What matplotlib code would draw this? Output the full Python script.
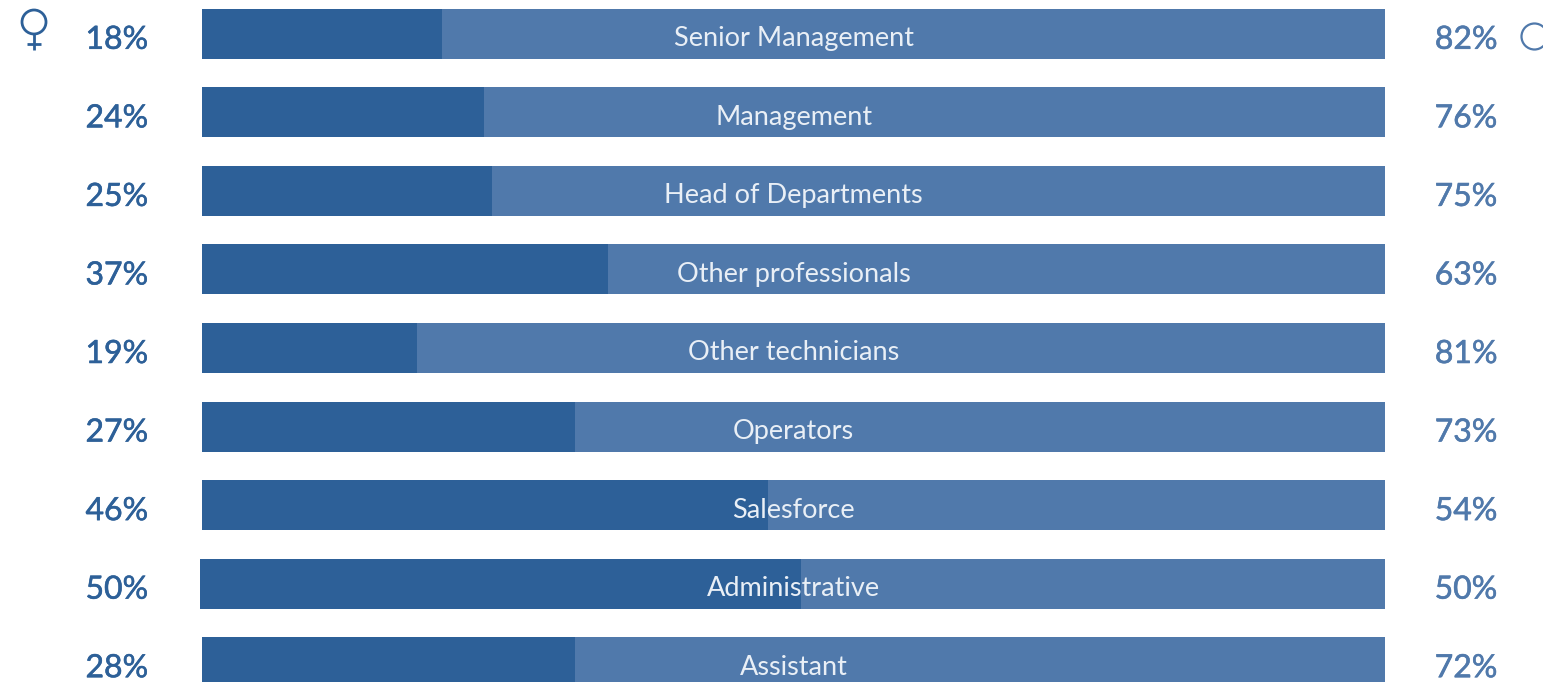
#!/usr/bin/env python3
import matplotlib
matplotlib.use('Agg')
import matplotlib.pyplot as plt
import matplotlib.patheffects as pe
from matplotlib.patches import Circle
from matplotlib.transforms import blended_transform_factory

# data
categories = ['Senior Management', 'Management', 'Head of Departments', 'Other professionals',
              'Other technicians', 'Operators', 'Salesforce', 'Administrative', 'Assistant']
female_labels = ['18%', '24%', '25%', '37%', '19%', '27%', '46%', '50%', '28%']
male_labels = ['82%', '76%', '75%', '63%', '81%', '73%', '54%', '50%', '72%']
# the drawn bar lengths do not follow the labels, so they are read off the picture on their own
female_bar = [20.25, 23.8, 24.5, 34.3, 18.15, 31.5, 47.85, 50.8, 31.5]
bar_start = [0, 0, 0, 0, 0, 0, 0, -0.2, 0]

W, H = 1543, 682
DARK = '#2d6098'
LIGHT = '#5079ab'
ROW = 78.55
TOP = 33.8

fig = plt.figure(figsize=(W / 100, H / 100), dpi=100, facecolor='white')

# axes spans the 0-100 bar, first row centred at y=TOP
left, right = 202.5, 1385
ax = fig.add_axes([left / W, 0, (right - left) / W, 1])
ax.set_xlim(0, 100)
ax.set_ylim((H - TOP) / ROW, -TOP / ROW)
ax.axis('off')

rows = list(range(len(categories)))
light = ax.barh(rows, [100 - s for s in bar_start], left=bar_start, height=50 / ROW, color=LIGHT, linewidth=0)
dark = ax.barh(rows, female_bar, left=bar_start, height=50 / ROW, color=DARK, linewidth=0)
for b in list(light) + list(dark):
    b.set_clip_on(False)

fig_x = blended_transform_factory(fig.transFigure, ax.transData)
for i, name in enumerate(categories):
    ax.text(50, i + 5 / ROW, name, ha='center', va='center', color='#e9eff6', fontsize=19.5,
            family='Lato')
    # Lato has no medium cut here, a thin stroke thickens the regular one
    t = ax.text(85.5 / W, i + 6 / ROW, female_labels[i], transform=fig_x, ha='left', va='center',
                color=DARK, fontsize=23, family='Lato', clip_on=False)
    t.set_path_effects([pe.withStroke(linewidth=0.4, foreground=DARK)])
    t = ax.text(1497.5 / W, i + 6 / ROW, male_labels[i], transform=fig_x, ha='right', va='center',
                color=LIGHT, fontsize=23, family='Lato', clip_on=False)
    t.set_path_effects([pe.withStroke(linewidth=0.4, foreground=LIGHT)])

# gender icons, in pixel coordinates
icons = fig.add_axes([0, 0, 1, 1], facecolor='none')
icons.set_xlim(0, W)
icons.set_ylim(H, 0)
icons.axis('off')
icons.add_patch(Circle((34, 22), 12, fill=False, edgecolor=DARK, linewidth=2))
icons.plot([34, 34], [34, 50], color=DARK, linewidth=2, solid_capstyle='butt')
icons.plot([27, 41], [44, 44], color=DARK, linewidth=2, solid_capstyle='butt')
icons.add_patch(Circle((1534.5, 36.5), 13, fill=False, edgecolor=LIGHT, linewidth=1.6))

fig.savefig('out.png', dpi=100)
